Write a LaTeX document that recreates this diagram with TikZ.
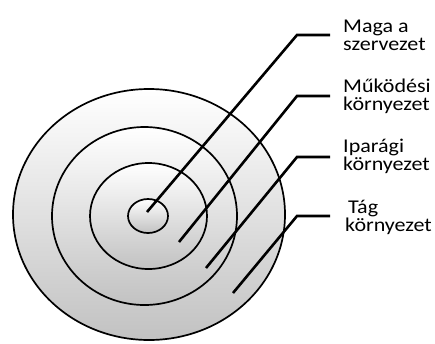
\documentclass[tikz,border=0pt]{standalone}
\usepackage{fontspec}
\setmainfont{Carlito}[FakeStretch=1.13]
\begin{document}
\begin{tikzpicture}[x=1pt, y=-1pt,
    ring/.style={line width=1.7pt, top color=white, bottom color=black!24},
    leader/.style={line width=2.6pt, line join=miter},
    lbl/.style={anchor=base west, inner sep=0pt, align=left,
        font=\fontsize{19.5}{18}\selectfont}]
    \useasboundingbox (0,0) rectangle (435,343);

    \draw[ring] (149,214.5) ellipse [x radius=136, y radius=125.5];
    \draw[ring] (144.5,216) ellipse [x radius=92.5, y radius=89];
    \draw[ring] (148.5,216) ellipse [x radius=58.5, y radius=53];
    \draw[ring] (148,216) ellipse [x radius=20, y radius=17];

    \node[lbl] (maga) at (343,50) {Maga a\\szervezet};
    \node[lbl] (mukodesi) at (343,110) {Működési\\környezet};
    \node[lbl] (iparagi) at (343,170) {Iparági\\környezet};
    \node[lbl] (tag) at (345,231) {\hspace*{3pt}Tág\\környezet};

    \coordinate (s1) at (147,212);
    \coordinate (s2) at (179,242);
    \coordinate (s3) at (206,268);
    \coordinate (s4) at (233,293);
    \coordinate (e1) at (297,35);
    \coordinate (e2) at (297,96);
    \coordinate (e3) at (297,157);
    \coordinate (e4) at (297,216);
    \coordinate (t1) at (330,35);
    \coordinate (t2) at (330,96);
    \coordinate (t3) at (330,157);
    \coordinate (t4) at (330,216);

    \draw[leader] (s1) -- (e1) -- (t1);
    \draw[leader] (s2) -- (e2) -- (t2);
    \draw[leader] (s3) -- (e3) -- (t3);
    \draw[leader] (s4) -- (e4) -- (t4);
\end{tikzpicture}
\end{document}
